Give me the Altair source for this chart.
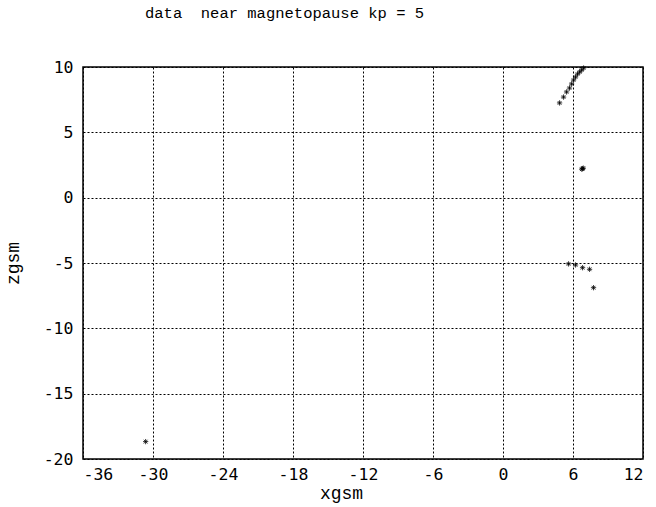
import altair as alt
import pandas as pd

xgsm = [4.85, 5.19, 5.45, 5.70, 5.88, 6.05, 6.22, 6.39, 6.57, 6.74, 6.91,
        6.75, 6.82, 6.88,
        5.62, 6.22, 6.82, 7.42, 7.76,
        -30.63]
zgsm = [7.25, 7.70, 8.09, 8.39, 8.70, 9.00, 9.23, 9.46, 9.62, 9.77, 9.92,
        2.18, 2.22, 2.26,
        -5.07, -5.15, -5.36, -5.48, -6.89,
        -18.67]
x_ticks = [-36, -30, -24, -18, -12, -6, 0, 6, 12]
y_ticks = [-20, -15, -10, -5, 0, 5, 10]

df = pd.DataFrame({"xgsm": xgsm, "zgsm": zgsm})

asterisk = "M-1,0L1,0M0,-1L0,1M-0.7,-0.7L0.7,0.7M-0.7,0.7L0.7,-0.7"

chart = alt.Chart(df).mark_point(
    shape=asterisk, size=28, color="black", strokeWidth=0.8, filled=False, opacity=1
).encode(
    x=alt.X("xgsm:Q", scale=alt.Scale(domain=[-36, 12], nice=False, zero=False),
            axis=alt.Axis(values=x_ticks, title="xgsm", grid=True, ticks=False,
                          domain=False, labelPadding=7,
                          titleX=258, titleY=34, titleBaseline="middle",
                          titleAlign="center",
                          format="d", labelExpr="replace(datum.label, '\u2212', '-')")),
    y=alt.Y("zgsm:Q", scale=alt.Scale(domain=[-20, 10], nice=False, zero=False),
            axis=alt.Axis(values=y_ticks, title="zgsm", grid=True, ticks=False,
                          domain=False, labelPadding=10,
                          titleX=-70, titleY=196, titleBaseline="middle",
                          titleAlign="center", titleAngle=270,
                          format="d", labelExpr="replace(datum.label, '\u2212', '-')")),
).properties(
    width=560, height=392,
    title=alt.TitleParams("data\u00a0\u00a0near magnetopause kp = 5", anchor="start",
                          frame="group", dx=62, offset=31, fontSize=15.5,
                          font="Liberation Mono", baseline="middle",
                          fontWeight="normal", color="black"),
    autosize=alt.AutoSizeParams(type="none"),
    padding={"left": 83, "top": 67, "right": 13, "bottom": 48},
    background="white",
).configure_view(
    stroke="black", strokeWidth=1.5
).configure_axis(
    gridColor="black", gridDash=[2, 2], gridOpacity=1, gridWidth=1,
    labelFont="DejaVu Sans Mono", labelFontSize=16.5, labelColor="black",
    titleFont="Liberation Mono", titleFontSize=18, titleFontWeight="normal",
    titleColor="black",
)

chart.save("out.html", embed_options={"renderer": "svg", "actions": False})
